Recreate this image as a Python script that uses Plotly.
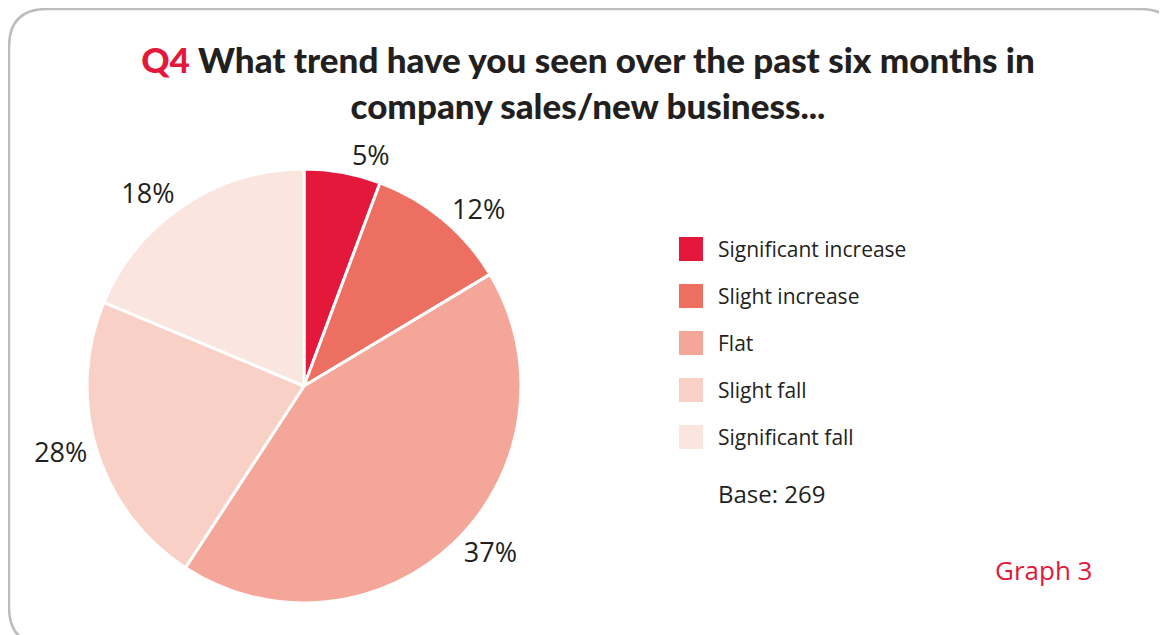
import plotly.graph_objects as go

categories = ["Significant increase", "Slight increase", "Flat", "Slight fall", "Significant fall"]
slice_shares = [5.7, 10.7, 42.8, 22.1, 18.7]
pct_labels = ["5%", "12%", "37%", "28%", "18%"]
colors = ["#E4183A", "#EC6F62", "#F4A799", "#F8D0C5", "#FBE5DF"]
base_text = "Base: 269"
graph_text = "Graph 3"

# page has an 8px body margin; figure sized to fit the window exactly
OFF = 8
W, H = 1167 - OFF, 635 - OFF
FONT = "Open Sans"
TXT = "#231F20"

def px(x):
    return (x - OFF) / W

def py(y):
    return 1 - (y - OFF) / H

fig = go.Figure()
cx, cy, r = 304, 386, 217
fig.add_trace(go.Pie(
    labels=categories, values=slice_shares, text=pct_labels,
    textinfo="text", textposition="outside", sort=False, direction="clockwise",
    rotation=0, marker=dict(colors=colors, line=dict(color="white", width=3)),
    textfont=dict(family=FONT, size=27, color=TXT),
    domain=dict(x=[px(cx - r), px(cx + r)], y=[py(cy + r), py(cy - r)]),
    showlegend=False, hoverinfo="label+text",
))

shapes = []
# rounded border (extends past the right and bottom edges, as in the original)
x0, y0, x1, y1, rr = 9, 9, 1178, 645, 38
path = (f"M {px(x0+rr)},{py(y0)} L {px(x1-rr)},{py(y0)} "
        f"Q {px(x1)},{py(y0)} {px(x1)},{py(y0+rr)} L {px(x1)},{py(y1-rr)} "
        f"Q {px(x1)},{py(y1)} {px(x1-rr)},{py(y1)} L {px(x0+rr)},{py(y1)} "
        f"Q {px(x0)},{py(y1)} {px(x0)},{py(y1-rr)} L {px(x0)},{py(y0+rr)} "
        f"Q {px(x0)},{py(y0)} {px(x0+rr)},{py(y0)} Z")
shapes.append(dict(type="path", path=path, xref="paper", yref="paper",
                   line=dict(color="#BDBDBD", width=2.5)))

annotations = []
# legend
ly0, lstep = 249, 47
for i, (cat, col) in enumerate(zip(categories, colors)):
    yc = ly0 + i * lstep
    shapes.append(dict(type="rect", xref="paper", yref="paper",
                       x0=px(679), x1=px(703), y0=py(yc + 12), y1=py(yc - 12),
                       fillcolor=col, line=dict(width=0)))
    annotations.append(dict(text=cat, x=px(716), y=py(yc), xref="paper", yref="paper",
                            xanchor="left", yanchor="middle", showarrow=False,
                            font=dict(family=FONT, size=21, color=TXT)))
annotations.append(dict(text=base_text, x=px(716), y=py(493), xref="paper", yref="paper",
                        xanchor="left", yanchor="middle", showarrow=False,
                        font=dict(family=FONT, size=24, color=TXT)))
annotations.append(dict(text=graph_text, x=px(1094), y=py(570), xref="paper", yref="paper",
                        xanchor="right", yanchor="middle", showarrow=False,
                        font=dict(family=FONT, size=26, color="#E4183A")))

title = ("<span style='color:#E4183A'>Q4</span> What trend have you seen over the past six months in"
         "<br>company sales/new business...")

fig.update_layout(
    width=W, height=H, margin=dict(l=0, r=0, t=0, b=0),
    paper_bgcolor="white", plot_bgcolor="white",
    title=dict(text=title, x=px(588), xanchor="center", y=py(73), yanchor="middle",
               font=dict(family="Lato", size=35, color=TXT, weight=900)),
    shapes=shapes, annotations=annotations, showlegend=False,
)
fig.write_html("out.html")
